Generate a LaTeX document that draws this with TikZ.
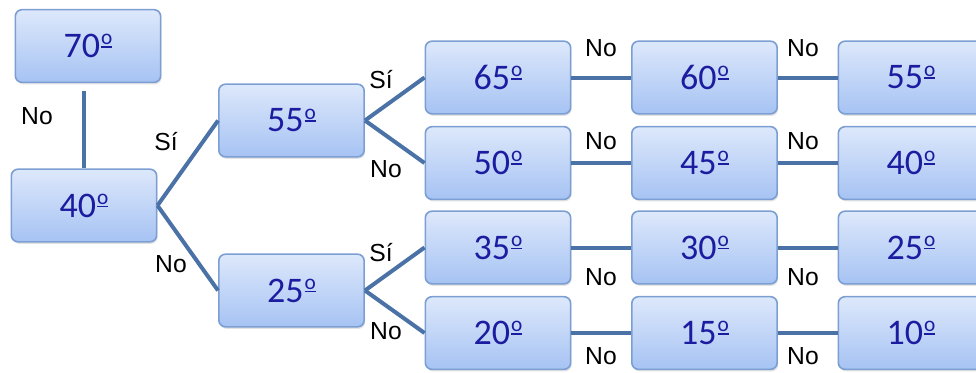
\documentclass[tikz,border=0pt]{standalone}
\usepackage{fontspec}
\setmainfont{Carlito}
\newfontfamily\lblfont{Liberation Sans}
\usetikzlibrary{shadows}
\definecolor{boxtop}{HTML}{DDE8FB}
\definecolor{boxbot}{HTML}{A6C3F3}
\definecolor{boxedge}{HTML}{7C9FD3}
\definecolor{numcol}{HTML}{1C1CA0}
\definecolor{linecol}{HTML}{4A72A6}
\newsavebox\ordobox
\newcommand\ordsign{\hbox{\kern0.6pt\fontsize{16}{16}\selectfont\sbox\ordobox{o}\rlap{\raisebox{9.6pt}{\usebox\ordobox}}\raisebox{7.4pt}{\rule{\wd\ordobox}{1.2pt}}}}
\tikzset{
  box/.style={draw=boxedge, line width=1.2pt, rounded corners=5pt,
    top color=boxtop, bottom color=boxbot,
    minimum width=109pt, minimum height=54.5pt, inner sep=0pt,
    font=\fontsize{27}{30}\selectfont, text=numcol,
    drop shadow={opacity=0.22, shadow xshift=0.8pt, shadow yshift=-1.5pt}},
  conn/.style={draw=linecol, line width=3pt},
  lbl/.style={font=\lblfont\fontsize{18.5}{20}\selectfont, text=black, inner sep=0pt}
}
\begin{document}
\begin{tikzpicture}[x=0.75pt, y=-0.75pt]
\useasboundingbox (0,0) rectangle (976,372);
% boxes
\node[box] (b70) at (88,46) {70\ordsign};
\node[box] (b40) at (84,205.5) {40\ordsign};
\node[box] (b55) at (291.5,120.5) {55\ordsign};
\node[box] (b25) at (291.5,290.5) {25\ordsign};
\node[box] (b65) at (498,77.5) {65\ordsign};
\node[box] (b50) at (498,163) {50\ordsign};
\node[box] (b35) at (498,247.5) {35\ordsign};
\node[box] (b20) at (498,333) {20\ordsign};
\node[box] (b60) at (704.5,77.5) {60\ordsign};
\node[box] (b45) at (704.5,163) {45\ordsign};
\node[box] (b30) at (704.5,247.5) {30\ordsign};
\node[box] (b15) at (704.5,333) {15\ordsign};
\node[box] (c55) at (911,77.5) {55\ordsign};
\node[box] (c40) at (911,163) {40\ordsign};
\node[box] (c25) at (911,247.5) {25\ordsign};
\node[box] (c10) at (911,333) {10\ordsign};
% connectors
\draw[conn] (b40.north) -- ([yshift=-6pt]b40.north |- b70.south);
\draw[conn] (b40.east) -- (b55.west);
\draw[conn] (b40.east) -- (b25.west);
\draw[conn] (b55.east) -- (b65.west);
\draw[conn] (b55.east) -- (b50.west);
\draw[conn] (b25.east) -- (b35.west);
\draw[conn] (b25.east) -- (b20.west);
\draw[conn] (b65.east) -- (b60.west);
\draw[conn] (b50.east) -- (b45.west);
\draw[conn] (b35.east) -- (b30.west);
\draw[conn] (b20.east) -- (b15.west);
\draw[conn] (b60.east) -- (c55.west);
\draw[conn] (b45.east) -- (c40.west);
\draw[conn] (b30.east) -- (c25.west);
\draw[conn] (b15.east) -- (c10.west);
% labels
\node[lbl] (l1) at (37,116) {No};
\node[lbl] (l2) at (166,142) {Sí};
\node[lbl] (l3) at (171,264) {No};
\node[lbl] (l4) at (381,80) {Sí};
\node[lbl] (l5) at (386,169) {No};
\node[lbl] (l6) at (381,253) {Sí};
\node[lbl] (l7) at (386,331) {No};
\node[lbl] (l8) at (601,48) {No};
\node[lbl] (l9) at (601,141) {No};
\node[lbl] (l10) at (601,277) {No};
\node[lbl] (l11) at (601,356) {No};
\node[lbl] (l12) at (803,48) {No};
\node[lbl] (l13) at (803,141) {No};
\node[lbl] (l14) at (803,277) {No};
\node[lbl] (l15) at (803,356) {No};
\end{tikzpicture}
\end{document}
